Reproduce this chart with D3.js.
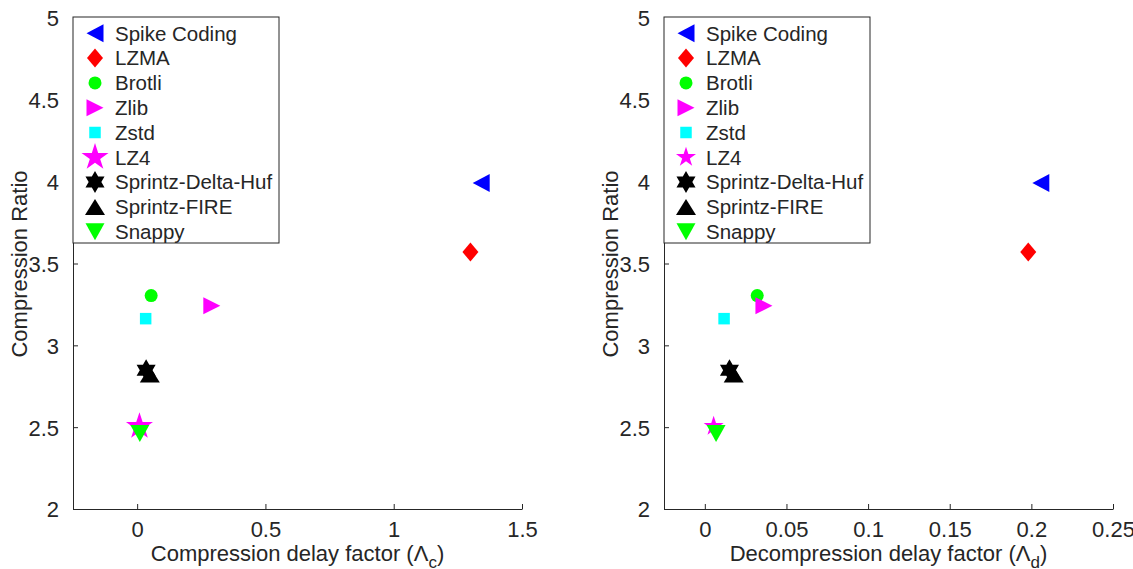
<!DOCTYPE html>
<html>
<head>
<meta charset="utf-8">
<script src="https://cdn.jsdelivr.net/npm/d3@7"></script>
<style>
  body { margin: 0; background: #fff; }
  text { font-family: "Liberation Sans", Arial, Helvetica, sans-serif; fill: #262626; }
</style>
</head>
<body>
<svg id="chart" width="1133" height="569"></svg>
<script>
// series names, in drawing order
const methods = ['Spike Coding', 'LZMA', 'Brotli', 'Zlib', 'Zstd', 'LZ4', 'Sprintz-Delta-Huf', 'Sprintz-FIRE', 'Snappy'];

// compression delay factor (left plot)
const compDelay = [1.341, 1.299, 0.0546, 0.291, 0.0332, 0.009, 0.035, 0.0495, 0.0105];
// decompression delay factor (right plot)
const decompDelay = [0.2058, 0.1981, 0.0321, 0.0362, 0.0118, 0.0054, 0.0151, 0.0177, 0.0069];
// compression ratio (same for both plots)
const ratio = [3.992, 3.570, 3.304, 3.242, 3.163, 2.505, 2.848, 2.822, 2.462];

const yTicks = [2, 2.5, 3, 3.5, 4, 4.5, 5];
const yTickLabels = ['2', '2.5', '3', '3.5', '4', '4.5', '5'];
const xTicksComp = [0, 0.5, 1, 1.5];
const xTickLabelsComp = ['0', '0.5', '1', '1.5'];
const xTicksDecomp = [0, 0.05, 0.1, 0.15, 0.2, 0.25];
const xTickLabelsDecomp = ['0', '0.05', '0.1', '0.15', '0.2', '0.25'];

// marker style per series
const colors = ['#0000ff', '#ff0000', '#00ff00', '#ff00ff', '#00ffff', '#ff00ff', '#000000', '#000000', '#00ff00'];
const shapes = ['triLeft', 'diamond', 'circle', 'triRight', 'square', 'star', 'hexagram', 'triUp', 'triDown'];

const svg = d3.select('#chart');
const axisColor = '#262626';

function poly(pts) {
  return d3.line()(pts) + 'Z';
}

function starPts(n, R, r) {
  const pts = [];
  for (let i = 0; i < 2 * n; i++) {
    const a = -Math.PI / 2 + i * Math.PI / n;
    const rr = i % 2 === 0 ? R : r;
    pts.push([rr * Math.cos(a), rr * Math.sin(a)]);
  }
  return pts;
}

function markerPath(shape, starW) {
  switch (shape) {
    case 'triLeft': return poly([[-8.5, 0], [8.5, -9], [8.5, 9]]);
    case 'triRight': return poly([[8.5, 0], [-8.5, -8.5], [-8.5, 8.5]]);
    case 'triUp': return poly([[0, -8], [10, 8], [-10, 8]]);
    case 'triDown': return poly([[0, 8.5], [9.5, -8.5], [-9.5, -8.5]]);
    case 'diamond': return poly([[0, -9.5], [8, 0], [0, 9.5], [-8, 0]]);
    case 'circle': return d3.symbol(d3.symbolCircle, Math.PI * 6.5 * 6.5)();
    case 'square': return d3.symbol(d3.symbolSquare, 11.5 * 11.5)();
    case 'star': {
      const R = starW / 1.902;
      return poly(starPts(5, R, R * 0.382));
    }
    case 'hexagram': {
      const R = 11;
      return poly(starPts(6, R, R / Math.sqrt(3)));
    }
  }
}

function drawPanel(opt) {
  const x = d3.scaleLinear().domain(opt.xDomain).range([opt.left, opt.right]);
  const y = d3.scaleLinear().domain([2, 5]).range([509, 18]);
  const g = svg.append('g');

  const xAxis = d3.axisBottom(x)
    .tickValues(opt.xTicks)
    .tickFormat((d, i) => opt.xLabels[i])
    .tickSizeInner(-5).tickSizeOuter(0).tickPadding(12);
  const gx = g.append('g').attr('transform', 'translate(0,509)').call(xAxis);

  const yAxis = d3.axisLeft(y)
    .tickValues(yTicks)
    .tickFormat((d, i) => yTickLabels[i])
    .tickSizeInner(-5).tickSizeOuter(0).tickPadding(14);
  const gy = g.append('g').attr('transform', 'translate(' + opt.left + ',0)').call(yAxis);

  [gx, gy].forEach(a => {
    a.selectAll('path, line').attr('stroke', axisColor).attr('stroke-width', 1);
    a.selectAll('text').style('font-size', '22px').attr('fill', axisColor)
      .style('font-family', '"Liberation Sans", Arial, sans-serif');
  });
  gy.selectAll('text').attr('dy', '0.36em');

  // axis labels
  const xl = g.append('text')
    .attr('x', (opt.left + opt.right) / 2)
    .attr('y', 561)
    .attr('text-anchor', 'middle')
    .style('font-size', '22px');
  xl.append('tspan').text(opt.xLabel + ' (\u039B');
  xl.append('tspan').attr('dy', 7).style('font-size', '17px').text(opt.sub);
  xl.append('tspan').attr('dy', -7).text(')');

  g.append('text')
    .attr('transform', 'translate(' + (opt.left - 46) + ',' + 264 + ') rotate(-90)')
    .attr('text-anchor', 'middle')
    .style('font-size', '22px')
    .text('Compression Ratio');

  // points
  g.selectAll('path.pt')
    .data(methods.map((m, i) => ({ i: i, xv: opt.xs[i], yv: ratio[i] })))
    .enter().append('path')
    .attr('class', 'pt')
    .attr('transform', d => 'translate(' + x(d.xv) + ',' + y(d.yv) + ')')
    .attr('d', d => markerPath(shapes[d.i], opt.starW))
    .attr('fill', d => colors[d.i]);

  // legend
  const lg = g.append('g');
  lg.append('rect')
    .attr('x', opt.left).attr('y', 17)
    .attr('width', 206).attr('height', 226)
    .attr('fill', '#fff').attr('stroke', axisColor).attr('stroke-width', 1);
  const rows = lg.selectAll('g.row').data(methods).enter().append('g')
    .attr('class', 'row')
    .attr('transform', (d, i) => 'translate(' + opt.left + ',' + (33.3 + i * 24.8) + ')');
  rows.append('path')
    .attr('transform', 'translate(22,0)')
    .attr('d', (d, i) => markerPath(shapes[i], opt.starW))
    .attr('fill', (d, i) => colors[i]);
  rows.append('text')
    .attr('x', 42).attr('dy', '0.36em')
    .style('font-size', '20.5px')
    .attr('fill', '#000')
    .text(d => d);
}

drawPanel({
  left: 73, right: 522, xDomain: [-0.25, 1.5],
  xTicks: xTicksComp, xLabels: xTickLabelsComp, xs: compDelay,
  xLabel: 'Compression delay factor', sub: 'c', starW: 27
});

drawPanel({
  left: 664, right: 1113, xDomain: [-0.025, 0.25],
  xTicks: xTicksDecomp, xLabels: xTickLabelsDecomp, xs: decompDelay,
  xLabel: 'Decompression delay factor', sub: 'd', starW: 20
});
</script>
</body>
</html>
